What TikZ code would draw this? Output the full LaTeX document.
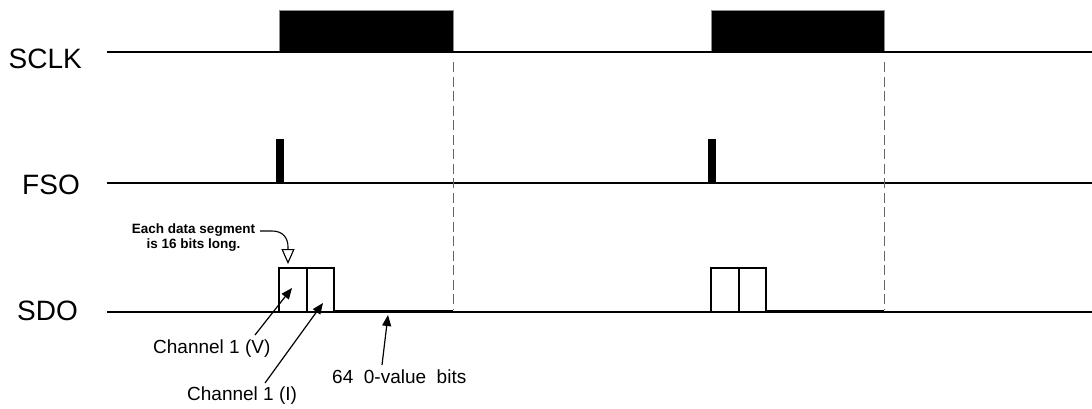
\documentclass[tikz,border=0pt]{standalone}
\usepackage{fontspec}
\setmainfont{Liberation Sans}
\usetikzlibrary{arrows.meta}
\begin{document}
\begin{tikzpicture}[x=1pt,y=-1pt,
  sig/.style={line width=1.3pt},
  pulse/.style={fill=black,draw=black!45,line width=1pt},
  seg/.style={draw,line width=1.2pt,fill=white},
  zero/.style={line width=2.6pt},
  guide/.style={draw=black!60,line width=1pt,dash pattern=on 10pt off 4.5pt},
  siglabel/.style={font=\fontsize{28}{30}\selectfont,inner sep=0pt},
  note/.style={font=\fontsize{19}{21}\selectfont,inner sep=0pt},
  pointer/.style={line width=1.2pt,-{Triangle[length=11pt,width=9pt]}},
]
\useasboundingbox (0,0) rectangle (1092,408);

% signal names
\node[siglabel,anchor=base east] (sclk) at (82,68) {SCLK};
\node[siglabel,anchor=base east] (fso) at (80,194) {FSO};
\node[siglabel,anchor=base east] (sdo) at (78,320) {SDO};

% SCLK
\draw[pulse] (279,10) rectangle (453,52);
\draw[pulse] (711,10) rectangle (884,52);
\draw[sig] (107,52) -- (1092,52);

% FSO
\draw[sig] (107,183) -- (1092,183);
\fill (276,139) rectangle (284,183);
\fill (708,139) rectangle (716,183);

% SDO
\draw[sig] (107,312) -- (1092,312);
\draw[seg] (279,268) rectangle (307,312);
\draw[seg] (307,268) rectangle (334,312);
\draw[zero] (334,311) -- (453,311);
\draw[seg] (711,268) rectangle (739,312);
\draw[seg] (739,268) rectangle (766,312);
\draw[zero] (766,311) -- (884,311);

% guides
\coordinate (g1t) at (453,62);
\coordinate (g1b) at (453,310);
\coordinate (g2t) at (884,62);
\coordinate (g2b) at (884,310);
\draw[guide] (g1t) -- (g1b);
\draw[guide] (g2t) -- (g2b);

% annotations
\node[font=\bfseries\fontsize{13.5}{15}\selectfont,align=center,anchor=north,inner sep=0pt]
  (seglen) at (193.5,223.5) {Each data segment\\is 16 bits long.};
\coordinate (c0) at (260,231);
\coordinate (c1) at (288,264);
\draw[line width=1.1pt,-{Triangle[open,length=15pt,width=13pt]}]
  (c0) -- (272,231) .. controls (283,231) and (288,238) .. (288,247) -- (c1);

\node[note,anchor=base west] (chv) at (153,353) {Channel 1 (V)};
\node[note,anchor=base west] (chi) at (187,400) {Channel 1 (I)};
\node[note,anchor=base west] (zb) at (332,383) {64\ \ 0-value\ \ bits};

\coordinate (tv) at (292,288);
\coordinate (ti) at (323,303);
\coordinate (tz) at (388,315);
\draw[pointer] (255,335) -- (tv);
\draw[pointer] (265,383) -- (ti);
\draw[pointer] (382,365) -- (tz);
\end{tikzpicture}
\end{document}
